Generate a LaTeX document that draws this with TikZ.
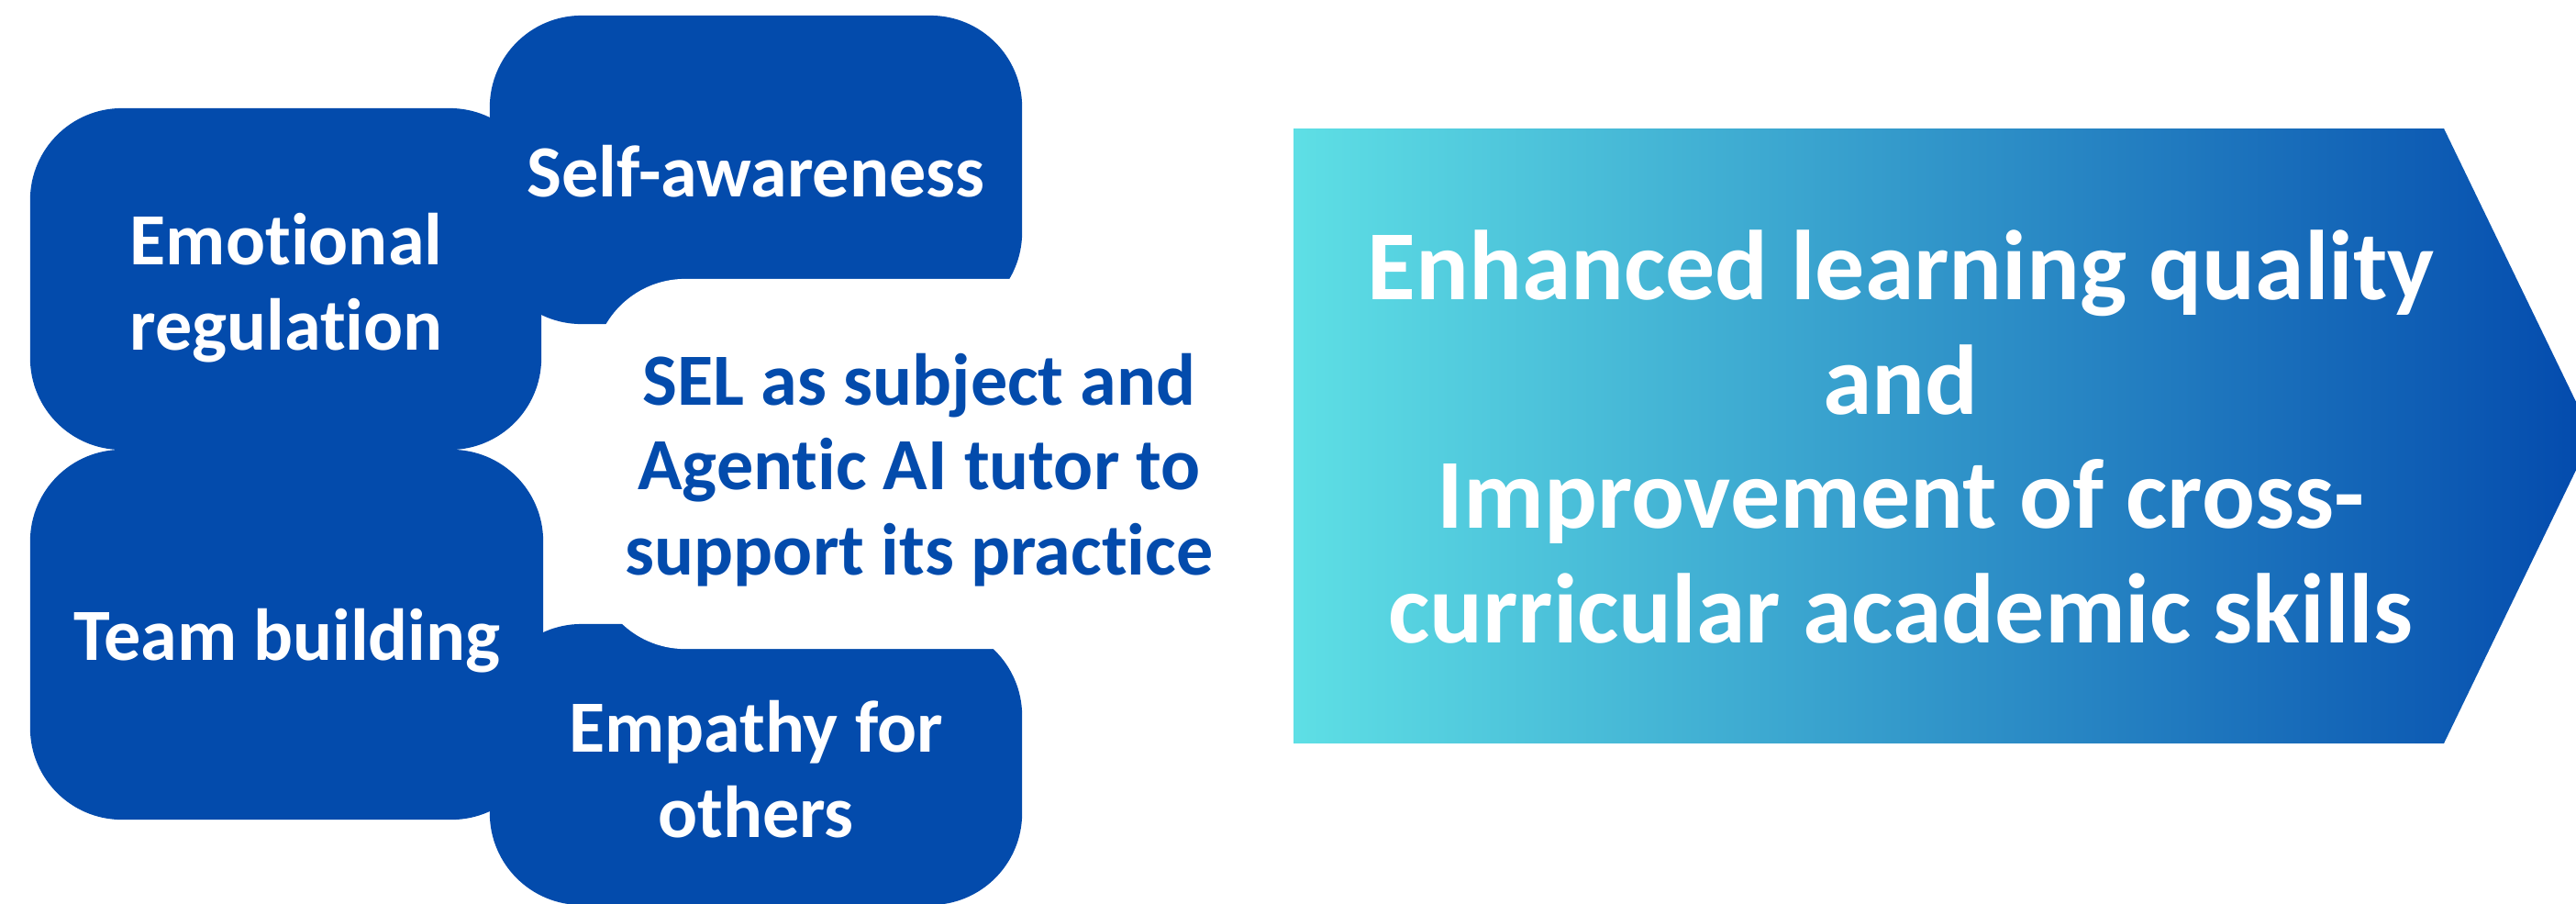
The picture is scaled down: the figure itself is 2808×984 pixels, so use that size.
\documentclass[tikz,border=0pt]{standalone}
\usepackage{fontspec}
\setmainfont{Carlito}[Ligatures=NoCommon]
\definecolor{selblue}{RGB}{3,75,172}
\definecolor{gradleft}{RGB}{94,223,229}
\definecolor{gradright}{RGB}{3,74,173}
\tikzset{
  skillbox/.style={fill=selblue, draw=none, rounded corners=1cm, inner sep=0pt},
  centerbox/.style={fill=white, draw=none, rounded corners=1cm, inner sep=0pt},
  skilltext/.style={text=white, align=center, inner sep=0pt,
    font=\bfseries\fontsize{22.8}{26.4}\selectfont},
  seltext/.style={text=selblue, align=center, inner sep=0pt,
    font=\bfseries\fontsize{22.8}{26.4}\selectfont},
  outtext/.style={text=white, align=center, inner sep=0pt,
    font=\bfseries\fontsize{30.7}{35.4}\selectfont}
}
\begin{document}
\begin{tikzpicture}[x=0.01cm, y=-0.01cm]
\useasboundingbox (0,0) rectangle (2808,984);
\begin{scope}
\clip (0,0) rectangle (2808,984);
% blue skill boxes
\node[skillbox, minimum width=5.57cm, minimum height=3.72cm] (emo) at (311.5,304) {};
\node[skillbox, minimum width=5.80cm, minimum height=3.36cm] (self) at (824,185) {};
\node[skillbox, minimum width=5.59cm, minimum height=4.03cm] (team) at (312.5,691.5) {};
\node[skillbox, minimum width=5.80cm, minimum height=3.06cm] (emp) at (824,833) {};
% white centre shape
\node[centerbox, minimum width=7.10cm, minimum height=4.03cm] (sel) at (1002,505.5) {};
% labels
\node[skilltext] (emolabel) at (312,314) {Emotional\\regulation};
\node[skilltext] (selflabel) at (824,187) {Self-awareness};
\node[skilltext] (teamlabel) at (313,698) {Team building};
\node[skilltext] (emplabel) at (824,838) {Empathy for\\others};
\node[seltext] (sellabel) at (1002,512) {SEL as subject and\\Agentic AI tutor to\\support its practice};
% outcome arrow
\shade[left color=gradleft, right color=gradright]
  (1410,140) -- (2664,140) -- (2826,475) -- (2664,810) -- (1410,810) -- cycle;
\node[outtext] (out) at (2072,476)
  {Enhanced learning quality\\and\\Improvement of cross-\\curricular academic skills};
\end{scope}
\end{tikzpicture}
\end{document}
